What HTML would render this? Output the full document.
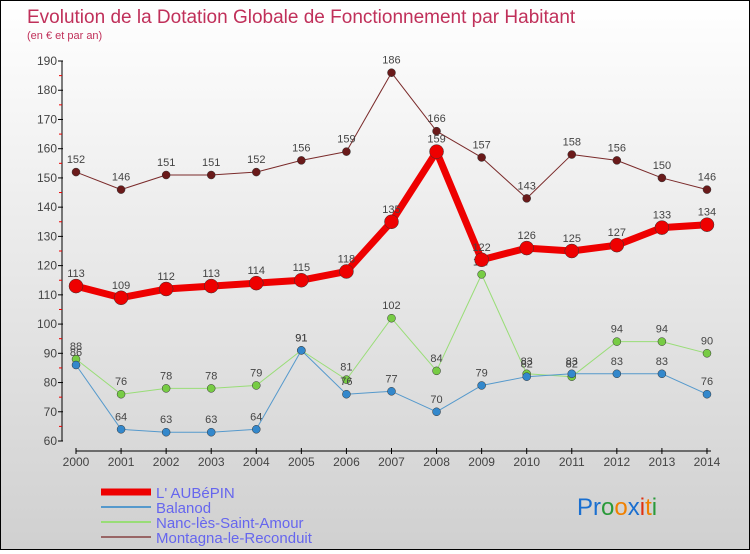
<!DOCTYPE html>
<html><head><meta charset="utf-8"><style>
body{margin:0;width:750px;height:550px;overflow:hidden;font-family:"Liberation Sans",sans-serif}
#wrap{position:relative;width:748px;height:548px;border:1px solid #000;background:linear-gradient(#fff,#d0d0d0)}
</style></head><body>
<div id="wrap">
<svg id="c" width="748" height="548">
<text x="26" y="22" font-size="19" fill="#c0305a">Evolution de la Dotation Globale de Fonctionnement par Habitant</text>
<text x="26" y="38" font-size="11" fill="#c0305a">(en € et par an)</text>
<text x="576" y="514" font-size="24" font-family="Liberation Sans"><tspan fill="#1a6fd0">Pr</tspan><tspan fill="#2a9a3a">o</tspan><tspan fill="#f08000">o</tspan><tspan fill="#1a6fd0">x</tspan><tspan fill="#e03010">i</tspan><tspan fill="#f08000">t</tspan><tspan fill="#2a9a3a">i</tspan></text>
</svg></div>
<script>
const years=[2000,2001,2002,2003,2004,2005,2006,2007,2008,2009,2010,2011,2012,2013,2014];
const yTicks=[60,70,80,90,100,110,120,130,140,150,160,170,180,190];
const aubepin=[113,109,112,113,114,115,118,135,159,122,126,125,127,133,134];
const balanod=[86,64,63,63,64,91,76,77,70,79,82,83,83,83,76];
const nanc=[88,76,78,78,79,91,81,102,84,117,83,82,94,94,90];
const montagna=[152,146,151,151,152,156,159,186,166,157,143,158,156,150,146];
const names=["L' AUBéPIN","Balanod","Nanc-lès-Saint-Amour","Montagna-le-Reconduit"];
const NS="http://www.w3.org/2000/svg",svg=document.getElementById('c');
const X=i=>75+i*45.07, Y=v=>440-(v-60)*2.923;
function mk(t,a,p){const e=document.createElementNS(NS,t);for(const k in a)e.setAttribute(k,a[k]);(p||svg).appendChild(e);return e;}
const ax=mk('g',{});


mk('line',{x1:61,y1:Y(190),x2:61,y2:Y(60),stroke:'#000'},ax);
mk('line',{x1:75,y1:450,x2:710,y2:450,stroke:'#000'},ax);
yTicks.forEach(v=>{mk('line',{x1:57,x2:62,y1:Y(v),y2:Y(v),stroke:'#000'},ax);
 if(v<190)mk('line',{x1:58,x2:61,y1:Y(v+5),y2:Y(v+5),stroke:'#e00'},ax);
 const t=mk('text',{x:56,y:Y(v)+4,'text-anchor':'end','font-size':12,fill:'#444'},ax);t.textContent=v;
 
 });
years.forEach((y,i)=>{mk('line',{x1:X(i),x2:X(i),y1:447,y2:453,stroke:'#000'},ax);
 const t=mk('text',{x:X(i),y:465,'text-anchor':'middle','font-size':12,fill:'#444'},ax);t.textContent=y;
 
 });
const series=[[montagna,'#7a2a2a','#6a1a1a',1,4,'montagna'],[nanc,'#99dd77','#77cc44',1,4,'nanc'],[balanod,'#5599cc','#3388cc',1,4,'balanod'],[aubepin,'#ee0000','#ee0000',7,7,'aubepin']];
series.forEach(([d,lc,pc,w,r,n])=>{const g=mk('g',{});
 
 
 mk('polyline',{points:d.map((v,i)=>X(i)+','+Y(v)).join(' '),fill:'none',stroke:lc,'stroke-width':w,'stroke-linejoin':'round'},g);
 d.forEach((v,i)=>{const c=mk('circle',{cx:X(i),cy:Y(v),r:r,fill:pc,stroke:'#333','stroke-width':0.5},g);
  
  
  const t=mk('text',{x:X(i),y:Y(v)-9,'text-anchor':'middle','font-size':11,fill:'#444'},g);t.textContent=v;
  
  });});
const lc=['#ee0000','#5599cc','#99dd77','#996666'],lw=[7,2,2,2];
names.forEach((n,i)=>{const g=mk('g',{});
 
 
 const y=491+i*15;
 mk('line',{x1:100,x2:150,y1:y,y2:y,stroke:lc[i],'stroke-width':lw[i]},g);
 const t=mk('text',{x:155,y:y+6,'font-size':15,fill:'#6666ee'},g);t.textContent=n;});
</script>
</body></html>
